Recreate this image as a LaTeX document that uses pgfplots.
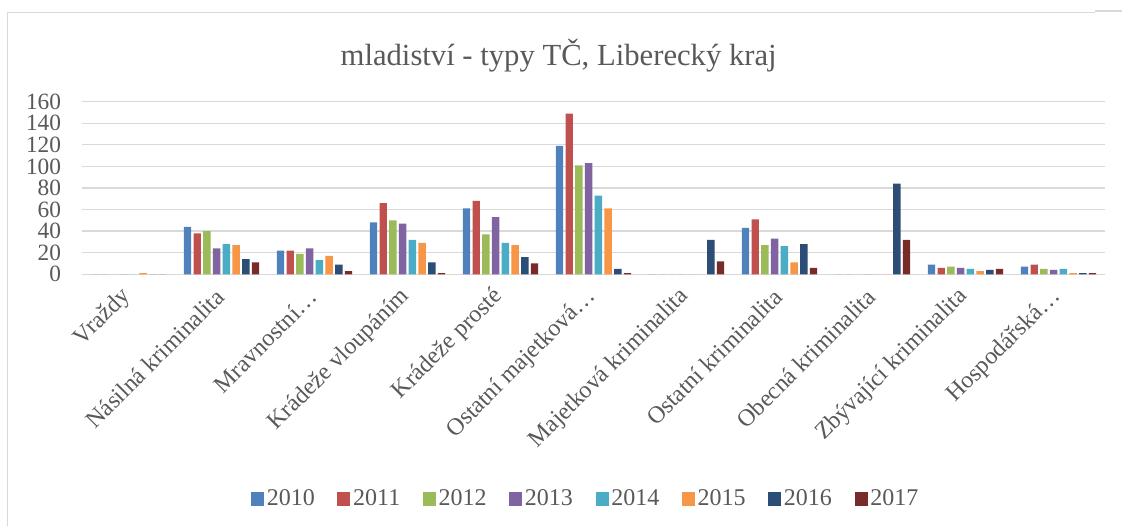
\documentclass[border=0pt]{standalone}
\usepackage{fontspec}
\setmainfont{Liberation Serif}
\newfontfamily\legfont{Liberation Serif}
\usepackage{pgfplots}
\usepackage{pgfplotstable}
\pgfplotsset{compat=1.18}
\definecolor{cA}{HTML}{4F81BD}
\definecolor{cB}{HTML}{C0504D}
\definecolor{cC}{HTML}{9BBB59}
\definecolor{cD}{HTML}{8064A2}
\definecolor{cE}{HTML}{4BACC6}
\definecolor{cF}{HTML}{F79646}
\definecolor{cG}{HTML}{2C4D75}
\definecolor{cH}{HTML}{772C2A}
\definecolor{txt}{HTML}{595959}
\definecolor{grd}{HTML}{D9D9D9}
\pgfplotstableread{
x a b c d e f g h
0 0 0 0 0 0 1 0 0
1 44 38 40 24 28 27 14 11
2 22 22 19 24 13 17 9 3
3 48 66 50 47 32 29 11 1
4 61 68 37 53 29 27 16 10
5 119 149 101 103 73 61 5 1
6 0 0 0 0 0 0 32 12
7 43 51 27 33 26 11 28 6
8 0 0 0 0 0 0 84 32
9 9 6 7 6 5 3 4 5
10 7 9 5 4 5 1 1 1
}\data
\begin{document}
\begin{tikzpicture}
\useasboundingbox (0,0) rectangle (841.5pt,394.5pt);
\fill[white] (0,0) rectangle (841.5pt,394.5pt);
\draw[grd, line width=1pt] (5.5pt,0) -- (5.5pt,385.3pt) -- (821pt,385.3pt);
\draw[grd, line width=1pt] (821pt,386.3pt) -- (841.5pt,386.3pt);
\node[anchor=base, text=txt, font=\fontsize{23}{27}\selectfont, inner sep=0pt] at (419pt,345.5pt) {mladiství - typy TČ, Liberecký kraj};
\begin{axis}[
  at={(61.5pt,188.8pt)}, anchor=south west,
  scale only axis, width=767.25pt, height=129.45pt,
  ybar=1.8pt, bar width=5.5pt,
  xmin=-0.5, xmax=10.5, ymin=0, ymax=160,
  ytick={0,20,...,160},
  xtick={0,...,10},
  xticklabels={Vraždy, Násilná kriminalita, Mravnostní…, Krádeže vloupáním, Krádeže prosté, Ostatní majetková…, Majetková kriminalita, Ostatní kriminalita, Obecná kriminalita, Zbývající kriminalita, Hospodářská…},
  /pgf/number format/assume math mode=true,
  major tick length=0pt,
  axis line style={draw=none},
  ymajorgrids, grid style={grd, line width=1pt},
  tick label style={text=txt},
  yticklabel style={font=\fontsize{17.5}{20}\selectfont, anchor=east, inner sep=0pt, xshift=-15.5pt},
  xticklabel style={font=\fontsize{18}{21}\selectfont, yshift=-14pt, xshift=-1pt, rotate=45, anchor=east, inner sep=0pt},
  legend style={at={(0.4927,-1.302)}, anchor=center, draw=none, fill=none, legend columns=8,
    font=\legfont\fontsize{18}{21}\selectfont, text=txt,
    /tikz/every even column/.append style={column sep=15pt}},
  legend image code/.code={\fill[#1] (0pt,-4.9pt) rectangle (9.75pt,4.9pt);},
  legend cell align=left,
]
\addplot[fill=cA, draw=none] table[x=x,y=a] {\data};
\addplot[fill=cB, draw=none] table[x=x,y=b] {\data};
\addplot[fill=cC, draw=none] table[x=x,y=c] {\data};
\addplot[fill=cD, draw=none] table[x=x,y=d] {\data};
\addplot[fill=cE, draw=none] table[x=x,y=e] {\data};
\addplot[fill=cF, draw=none] table[x=x,y=f] {\data};
\addplot[fill=cG, draw=none] table[x=x,y=g] {\data};
\addplot[fill=cH, draw=none] table[x=x,y=h] {\data};
\legend{2010,2011,2012,2013,2014,2015,2016,2017}
\end{axis}
\end{tikzpicture}
\end{document}
